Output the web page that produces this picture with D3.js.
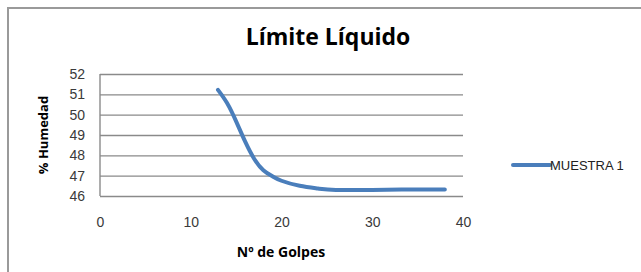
<!DOCTYPE html>
<html>
<head>
<meta charset="utf-8">
<script src="https://cdn.jsdelivr.net/npm/d3@7"></script>
<style>
  body { margin: 0; background: #fff; }
  svg { display: block; }
  .tick text { fill: #3a3a3a; }
</style>
</head>
<body>
<svg class="chart"></svg>
<script>
const width = 641;
const height = 272;

// datos
const golpes = [13, 14, 15, 16, 17, 18, 19, 20, 22, 24, 26, 30, 34, 38];
const humedad = [51.22, 50.57, 49.67, 48.67, 47.82, 47.27, 46.97, 46.75, 46.5, 46.37, 46.3, 46.3, 46.32, 46.32];
const xTicks = [0, 10, 20, 30, 40];
const yTicks = [46, 47, 48, 49, 50, 51, 52];
const serieName = "MUESTRA 1";

const data = golpes.map((g, i) => ({ x: g, y: humedad[i] }));

let svg = d3.select("svg.chart")
    .attr("width", width)
    .attr("height", height);

// marco
svg.append("rect")
    .attr("x", 8)
    .attr("y", 8)
    .attr("width", 700)
    .attr("height", 400)
    .attr("fill", "none")
    .attr("stroke", "#9a9a9a")
    .attr("stroke-width", 2);

let x = d3.scaleLinear()
    .domain([0, 40])
    .range([100, 463]);

let y = d3.scaleLinear()
    .domain([46, 52])
    .range([196, 74]);

// lineas de cuadricula
let grid = svg.append("g")
    .attr("transform", `translate(${x(0)},0)`)
    .call(d3.axisLeft(y).tickValues(yTicks).tickSize(-(x(40) - x(0))).tickFormat(""));
grid.select(".domain").remove();
grid.selectAll(".tick line")
    .attr("stroke", "#8a8a8a")
    .attr("stroke-width", 1.4);

svg.append("line")
    .attr("x1", x(0)).attr("x2", x(0))
    .attr("y1", y(52)).attr("y2", y(46))
    .attr("stroke", "#8a8a8a")
    .attr("stroke-width", 1.4);

let yAxis = svg.append("g")
    .attr("transform", `translate(${x(0)},0)`)
    .style("font-family", "'Liberation Sans', Arial, sans-serif")
    .style("font-size", "14px")
    .call(d3.axisLeft(y).tickValues(yTicks).tickFormat(d3.format("d")).tickSize(0).tickPadding(15));
yAxis.select(".domain").remove();

let xAxis = svg.append("g")
    .attr("transform", `translate(0,${y(46)})`)
    .style("font-family", "'Liberation Sans', Arial, sans-serif")
    .style("font-size", "14px")
    .call(d3.axisBottom(x).tickValues(xTicks).tickSize(0).tickPadding(21));
xAxis.select(".domain").remove();

// serie
let line = d3.line()
    .x(d => x(d.x))
    .y(d => y(d.y))
    .curve(d3.curveNatural);

svg.append("path")
    .datum(data)
    .attr("fill", "none")
    .attr("stroke", "#4a7ebb")
    .attr("stroke-width", 4)
    .attr("stroke-linecap", "round")
    .attr("d", line);

// titulos
svg.append("text")
    .attr("x", 328)
    .attr("y", 45)
    .attr("text-anchor", "middle")
    .style("font-family", "'Open Sans', sans-serif")
    .style("font-weight", "bold")
    .style("font-size", "23px")
    .text("Límite Líquido");

svg.append("text")
    .attr("x", 281)
    .attr("y", 257)
    .attr("text-anchor", "middle")
    .style("font-family", "'Open Sans', sans-serif")
    .style("font-weight", "bold")
    .style("font-size", "14px")
    .text("Nº de Golpes");

svg.append("text")
    .attr("transform", "translate(48,135) rotate(-90)")
    .attr("text-anchor", "middle")
    .style("font-family", "'Open Sans', sans-serif")
    .style("font-weight", "bold")
    .style("font-size", "13px")
    .text("% Humedad");

// leyenda
let legend = svg.append("g")
    .attr("transform", "translate(513,165)");

legend.append("line")
    .attr("x1", 0).attr("x2", 37)
    .attr("stroke", "#4a7ebb")
    .attr("stroke-width", 4)
    .attr("stroke-linecap", "round");

legend.append("text")
    .attr("x", 37)
    .attr("dy", "0.36em")
    .style("font-family", "'Liberation Sans', Arial, sans-serif")
    .style("font-size", "13px")
    .style("fill", "#222")
    .text(serieName);
</script>
</body>
</html>
